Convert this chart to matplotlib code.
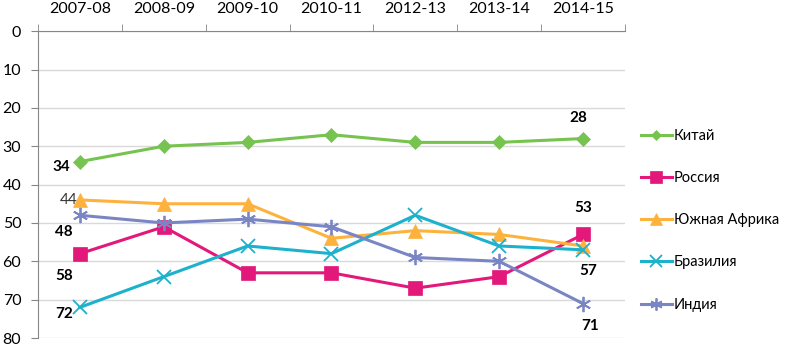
#!/usr/bin/env python3
"""Rank of BRICS countries by year (inverted axis), line chart."""
import numpy as np
import matplotlib
matplotlib.use("Agg")
import matplotlib.pyplot as plt

years = ['2007-08', '2008-09', '2009-10', '2010-11', '2012-13', '2013-14', '2014-15']
china = [34, 30, 29, 27, 29, 29, 28]
russia = [58, 51, 63, 63, 67, 64, 53]
south_africa = [44, 45, 45, 54, 52, 53, 56]
brazil = [72, 64, 56, 58, 48, 56, 57]
india = [48, 50, 49, 51, 59, 60, 71]
names = ['Китай', 'Россия', 'Южная Африка', 'Бразилия', 'Индия']

plt.rcParams['font.family'] = ['Lato', 'DejaVu Sans']

fig = plt.figure(figsize=(7.92, 3.46), dpi=100)
ax = fig.add_axes([0.048, 0.023, 0.741, 0.887])

x = np.arange(len(years))
series = [
    (china, '#77C34F', 'D', 7),
    (russia, '#E2187B', 's', 10),
    (south_africa, '#FDB23E', '^', 10),
    (brazil, '#1DB1CC', 'x', 10),
    (india, '#7A86C4', (6, 2, 0), 11),
]
handles = []
for (vals, col, mk, ms), name in zip(series, names):
    thin = mk == 'x' or isinstance(mk, tuple)
    h, = ax.plot(x, vals, color=col, lw=2.2, marker=mk, markersize=ms,
                 markeredgewidth=1.3 if thin else 0.5,
                 markeredgecolor=col, markerfacecolor=col, label=name, zorder=3)
    handles.append(h)

# data labels
lab = dict(fontsize=11, fontweight='bold', color='black')
ax.annotate(str(china[0]), (x[0], china[0]), xytext=(-7, -4), textcoords='offset points', ha='right', va='center', **lab)
ax.annotate(str(south_africa[0]), (x[0], south_africa[0]), xytext=(-2, 0), textcoords='offset points', ha='right', va='center', fontsize=11, color='#333333')
ax.annotate(str(india[0]), (x[0], india[0]), xytext=(-5, -12), textcoords='offset points', ha='right', va='center', **lab)
ax.annotate(str(russia[0]), (x[0], russia[0]), xytext=(-5, -16), textcoords='offset points', ha='right', va='center', **lab)
ax.annotate(str(brazil[0]), (x[0], brazil[0]), xytext=(-5, -5), textcoords='offset points', ha='right', va='center', **lab)
ax.annotate(str(china[-1]), (x[-1], china[-1]), xytext=(-3, 15), textcoords='offset points', ha='center', va='center', **lab)
ax.annotate(str(russia[-1]), (x[-1], russia[-1]), xytext=(0, 19), textcoords='offset points', ha='center', va='center', **lab)
ax.annotate(str(brazil[-1]), (x[-1], brazil[-1]), xytext=(4, -15), textcoords='offset points', ha='center', va='center', **lab)
ax.annotate(str(india[-1]), (x[-1], india[-1]), xytext=(5, -16), textcoords='offset points', ha='center', va='center', **lab)

ax.set_xlim(-0.5, len(years) - 0.5)
ax.set_ylim(80, 0)
ax.set_yticks(np.arange(0, 81, 10))
ax.yaxis.grid(True, color='#D9D9D9', lw=1)
ax.set_axisbelow(True)

ax.xaxis.tick_top()
ax.set_xticks(x)
ax.set_xticklabels(years)
ax.set_xticks(np.arange(-0.5, len(years)), minor=True)
ax.tick_params(axis='x', which='major', length=0, pad=11, labelsize=11.5)
ax.tick_params(axis='x', which='minor', length=5, color='#868686', direction='out')
ax.tick_params(axis='y', length=5, color='#868686', labelsize=11.5, pad=7)

for s in ['right', 'bottom']:
    ax.spines[s].set_visible(False)
for s in ['left', 'top']:
    ax.spines[s].set_color('#868686')

fig.legend(handles=handles, loc='upper left', bbox_to_anchor=(0.793, 0.665),
           frameon=False, fontsize=10.5, labelspacing=1.93, handlelength=2.1,
           handletextpad=0.15, markerscale=0.8)

fig.savefig('out.png', dpi=100)
